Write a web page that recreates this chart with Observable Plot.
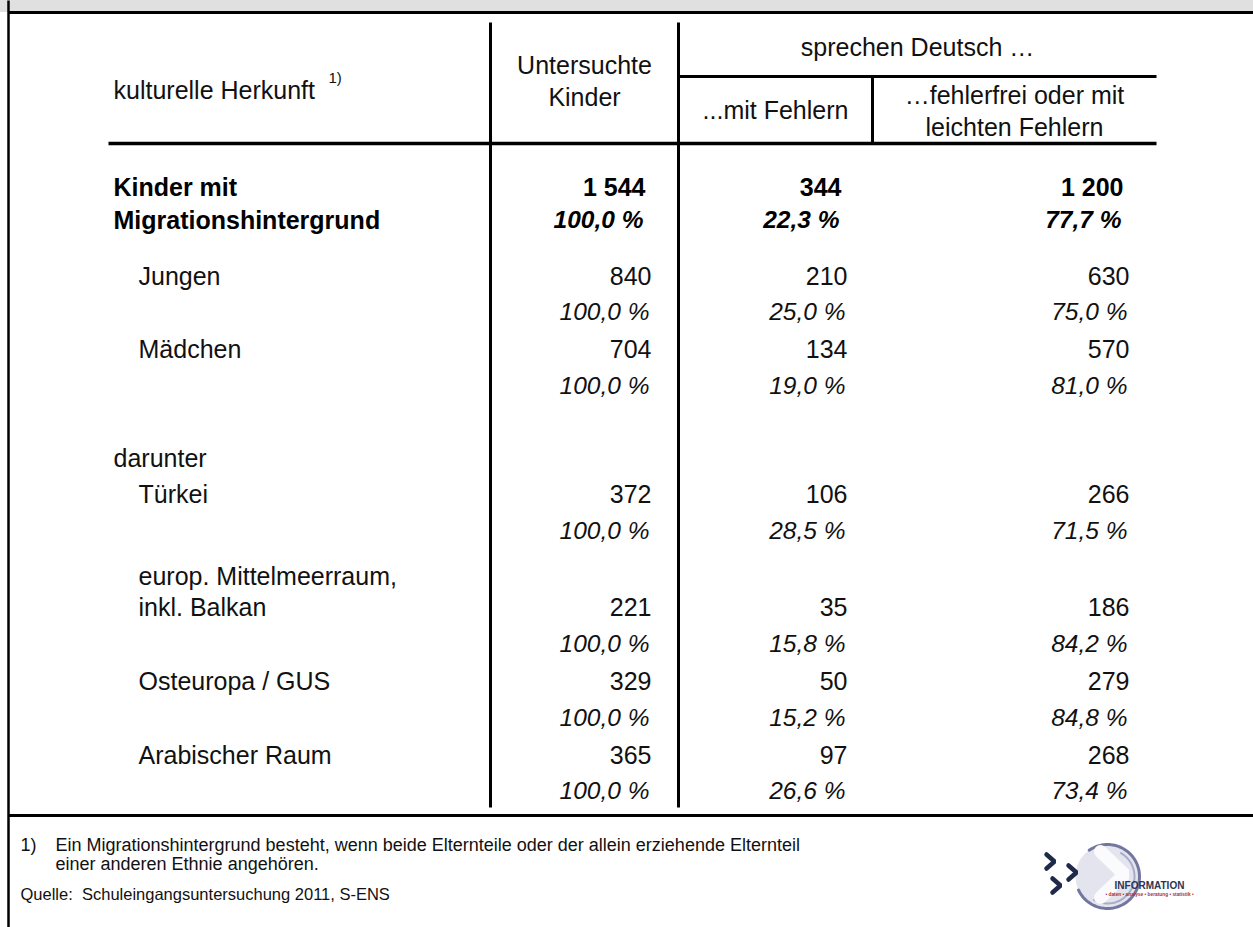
<!DOCTYPE html>
<html><head><meta charset="utf-8">
<script src="https://cdn.jsdelivr.net/npm/d3@7"></script>
<script src="https://cdn.jsdelivr.net/npm/@observablehq/plot@0.6"></script>
<style>
html,body{margin:0;padding:0;background:#fff;}
#chart svg{display:block;}
</style></head><body><div id="chart"></div>
<script>
// ---------- data ----------
const categories = ["Kinder mit\nMigrationshintergrund", "Jungen", "Mädchen", "Türkei", "europ. Mittelmeerraum,\ninkl. Balkan", "Osteuropa / GUS", "Arabischer Raum"];
const untersucht = [1544, 840, 704, 372, 221, 329, 365];
const mitFehlern = [344, 210, 134, 106, 35, 50, 97];
const fehlerfrei = [1200, 630, 570, 266, 186, 279, 268];
const pctUntersucht = [100.0, 100.0, 100.0, 100.0, 100.0, 100.0, 100.0];
const pctMitFehlern = [22.3, 25.0, 19.0, 28.5, 15.8, 15.2, 26.6];
const pctFehlerfrei = [77.7, 75.0, 81.0, 71.5, 84.2, 84.8, 73.4];
const groupLabel = "darunter";
const headRowLabel = "kulturelle Herkunft";
const headCol1 = ["Untersuchte", "Kinder"];
const headGroup = "sprechen Deutsch …";
const headCol2 = ["...mit Fehlern"];
const headCol3 = ["…fehlerfrei oder mit", "leichten Fehlern"];
const footnoteMark = "1)";
const footnoteText = ["Ein Migrationshintergrund besteht, wenn beide Elternteile oder der allein erziehende Elternteil", "einer anderen Ethnie angehören."];
const sourceText = "Quelle:  Schuleingangsuntersuchung 2011, S-ENS";
const logoTitle = "INFORMATION";
const logoSub = "• daten • analyse • beratung • statistik •";

// ---------- layout ----------
const W = 1253, H = 927;
const FONT = "'Liberation Sans', Arial, Helvetica, sans-serif";
const colRight = [651, 847, 1129];
const rowY = [187, 276, 349, 494, 607, 681, 755];
const pctY = [220, 312, 386, 531, 644, 718, 791];
const labelX = [113, 138, 138, 138, 138, 138, 138];
const groupY = 458;
const lineGap = 31;

const loc = d3.formatLocale({decimal: ",", thousands: " ", grouping: [3], currency: ["", ""]});
const fmtN = loc.format(",d");
const fmtP = v => loc.format(".1f")(v) + " %";

const numCells = [], pctCells = [], labelCells = [];
categories.forEach((c, i) => {
  const vals = [untersucht[i], mitFehlern[i], fehlerfrei[i]];
  const pcts = [pctUntersucht[i], pctMitFehlern[i], pctFehlerfrei[i]];
  vals.forEach((v, j) => numCells.push({row: i, col: j, x: colRight[j] - (i === 0 ? 6 : 0), y: rowY[i], t: fmtN(v)}));
  pcts.forEach((v, j) => pctCells.push({row: i, col: j, x: colRight[j] - (i === 0 ? 8 : 2), y: pctY[i], t: fmtP(v)}));
  const lines = c.split("\n");
  lines.forEach((l, k) => {
    const y = i === 0 ? (k === 0 ? rowY[i] : pctY[i]) : rowY[i] - (lines.length - 1 - k) * lineGap;
    labelCells.push({row: i, x: labelX[i], y, t: l});
  });
});
labelCells.push({row: -1, x: 113, y: groupY, t: groupLabel});

const rules = [
  {x1: 8, x2: W, y1: 12, y2: 12, w: 3},
  {x1: 8, x2: 8, y1: 0, y2: H, w: 2.5},
  {x1: 490, x2: 490, y1: 22, y2: 807, w: 3},
  {x1: 678, x2: 678, y1: 22, y2: 807, w: 3},
  {x1: 678, x2: 1156, y1: 76, y2: 76, w: 3},
  {x1: 872, x2: 872, y1: 76, y2: 143, w: 3},
  {x1: 108, x2: 1156, y1: 143, y2: 143, w: 3.5},
  {x1: 8, x2: W, y1: 815, y2: 815, w: 3}
];

const headCenter = [
  {x: 584, y: 65, t: headCol1[0]},
  {x: 584, y: 97, t: headCol1[1]},
  {x: 917, y: 47, t: headGroup},
  {x: 775, y: 110, t: headCol2[0]},
  {x: 1014, y: 95, t: headCol3[0]},
  {x: 1014, y: 127, t: headCol3[1]}
];

const footText = [
  {x: 20, y: 845, t: footnoteMark},
  {x: 55, y: 845, t: footnoteText[0]},
  {x: 55, y: 864, t: footnoteText[1]}
];

// logo geometry
const logoC = {x: 1107, y: 876};
const chevronCenters = [{id: 0, x: 1050, y: 861}, {id: 1, x: 1072, y: 872}, {id: 2, x: 1056, y: 885}];
const chevronPts = chevronCenters.flatMap(c => [
  {id: c.id, x: c.x - 4, y: c.y - 7}, {id: c.id, x: c.x + 4, y: c.y}, {id: c.id, x: c.x - 4, y: c.y + 7}
]);
const innerChevron = [{x: 1100, y: 851}, {x: 1124, y: 874}, {x: 1100, y: 897}];
const arcOuter = d3.range(-125, 156, 4).map(a => ({x: logoC.x + 32 * Math.cos(a * Math.PI / 180), y: logoC.y + 32 * Math.sin(a * Math.PI / 180)}));
const arcInner = d3.range(-60, 121, 4).map(a => ({x: logoC.x + 27 * Math.cos(a * Math.PI / 180), y: logoC.y + 27 * Math.sin(a * Math.PI / 180)}));

const plot = Plot.plot({
  width: W, height: H, margin: 0,
  x: {domain: [0, W], range: [0, W], axis: null},
  y: {domain: [0, H], range: [0, H], axis: null},
  style: {fontFamily: FONT, background: "white", overflow: "visible"},
  marks: [
    Plot.rect([{x1: 0, x2: W, y1: 0, y2: 12}], {x1: "x1", x2: "x2", y1: "y1", y2: "y2", fill: "#e0e0e0"}),
    Plot.link(rules, {x1: "x1", x2: "x2", y1: "y1", y2: "y2", stroke: "black", strokeWidth: "w", strokeLinecap: "butt"}),
    // headers
    Plot.text([{x: 113, y: 90, t: headRowLabel}], {x: "x", y: "y", text: "t", textAnchor: "start", fontSize: 25, fill: "#111", ariaLabel: "head"}),
    Plot.text([{x: 328, y: 78, t: footnoteMark}], {x: "x", y: "y", text: "t", textAnchor: "start", fontSize: 15, fill: "#111"}),
    Plot.text(headCenter, {x: "x", y: "y", text: "t", textAnchor: "middle", fontSize: 25, fill: "#111", ariaLabel: "head"}),
    // labels
    Plot.text(labelCells.filter(d => d.row === 0), {x: "x", y: "y", text: "t", textAnchor: "start", fontSize: 25, fontWeight: "bold", fill: "#000", ariaLabel: "boldlabel"}),
    Plot.text(labelCells.filter(d => d.row !== 0), {x: "x", y: "y", text: "t", textAnchor: "start", fontSize: 25, fill: "#111", ariaLabel: "label"}),
    // values
    Plot.text(numCells.filter(d => d.row === 0), {x: "x", y: "y", text: "t", textAnchor: "end", fontSize: 25, fontWeight: "bold", fill: "#000", ariaLabel: "boldnum"}),
    Plot.text(numCells.filter(d => d.row !== 0), {x: "x", y: "y", text: "t", textAnchor: "end", fontSize: 25, fill: "#111"}),
    Plot.text(pctCells.filter(d => d.row === 0), {x: "x", y: "y", text: "t", textAnchor: "end", fontSize: 24.5, fontStyle: "italic", fontWeight: "bold", fill: "#000"}),
    Plot.text(pctCells.filter(d => d.row !== 0), {x: "x", y: "y", text: "t", textAnchor: "end", fontSize: 24.5, fontStyle: "italic", fill: "#111"}),
    // footer
    Plot.text(footText, {x: "x", y: "y", text: "t", textAnchor: "start", fontSize: 18, fill: "#111", ariaLabel: "foot"}),
    Plot.text([{x: 20, y: 894, t: sourceText}], {x: "x", y: "y", text: "t", textAnchor: "start", fontSize: 16.5, fill: "#111"}),
    // logo
    Plot.dot([logoC], {x: "x", y: "y", r: 32, fill: "#e3e4ee"}),
    Plot.line(arcOuter, {x: "x", y: "y", stroke: "#7377a0", strokeWidth: 3, curve: "linear"}),
    Plot.line(arcInner, {x: "x", y: "y", stroke: "#a9acc8", strokeWidth: 2, curve: "linear"}),
    Plot.line(innerChevron, {x: "x", y: "y", stroke: "#fbfbfd", strokeWidth: 13, strokeLinejoin: "miter"}),
    Plot.line(chevronPts, {x: "x", y: "y", z: "id", stroke: "#1e2a48", strokeWidth: 4.5, strokeLinejoin: "miter"}),
    Plot.text([{x: 1149, y: 885, t: logoTitle}], {x: "x", y: "y", text: "t", fontSize: 10, fontWeight: "bold", fill: "#2b3452", ariaLabel: "logotext"}),
    Plot.text([{x: 1149, y: 894, t: logoSub}], {x: "x", y: "y", text: "t", fontSize: 4.8, fontWeight: "bold", fill: "#a3333f"})
  ]
});

const svg = d3.select(plot);
svg.selectAll("g[aria-label='boldlabel'] text").style("letter-spacing", "1.5px");
svg.selectAll("g[aria-label='label'] text").style("letter-spacing", "1px");
svg.selectAll("g[aria-label='boldnum'] text").style("letter-spacing", "1px");
svg.selectAll("g[aria-label='head'] text").style("letter-spacing", "0.5px");
svg.selectAll("g[aria-label='foot'] text").style("letter-spacing", "0.3px");
svg.selectAll("g[aria-label='logotext'] text").style("letter-spacing", "3px");
document.getElementById("chart").appendChild(plot);
</script>
</body></html>
